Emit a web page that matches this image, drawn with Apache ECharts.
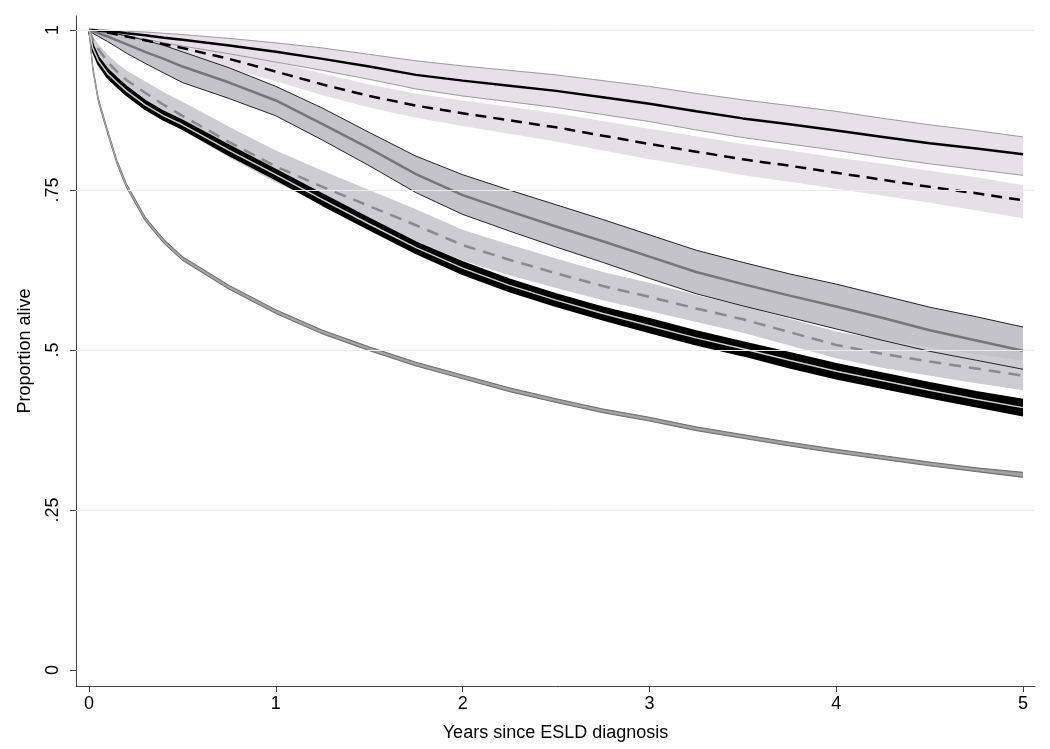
<!DOCTYPE html>
<html>
<head>
<meta charset="utf-8">
<script src="https://cdn.jsdelivr.net/npm/echarts@6/dist/echarts.min.js"></script>
<style>
  html, body { margin: 0; padding: 0; background: #fff; }
  #chart { width: 1050px; height: 749px; }
</style>
</head>
<body>
<div id="chart"></div>
<script>
// time points (years since ESLD diagnosis)
const years = [0, 0.02, 0.05, 0.1, 0.15, 0.2, 0.3, 0.4, 0.5, 0.75, 1, 1.25, 1.5, 1.75, 2, 2.25, 2.5, 2.75, 3, 3.25, 3.5, 3.75, 4, 4.25, 4.5, 4.75, 5];

// group A: solid black, light band with grey borders
const aEst = [1, 1, .999, .998, .997, .995, .992, .988, .985, .976, .966, .955, .943, .930, .921, .913, .905, .895, .885, .873, .862, .853, .843, .833, .823, .815, .806];
const aHi  = [1, 1, 1, 1, .999, .998, .997, .995, .993, .987, .980, .972, .962, .952, .944, .937, .930, .921, .912, .901, .891, .882, .873, .862, .852, .843, .833];
const aLo  = [1, .999, .998, .995, .993, .991, .986, .980, .975, .963, .950, .937, .923, .908, .897, .888, .879, .868, .857, .844, .832, .822, .812, .801, .791, .782, .773];

// group B: dashed black, light band
const bEst = [1, .999, .998, .996, .993, .990, .984, .978, .972, .955, .935, .915, .897, .882, .870, .859, .848, .835, .822, .810, .798, .788, .777, .766, .755, .745, .734];
const bHi  = [1, 1, 1, .999, .998, .997, .993, .989, .985, .971, .950, .932, .915, .901, .890, .880, .870, .858, .846, .834, .822, .812, .801, .791, .780, .770, .758];
const bLo  = [1, .997, .995, .992, .988, .983, .975, .967, .958, .939, .920, .898, .879, .863, .850, .838, .826, .812, .798, .786, .773, .763, .752, .741, .730, .718, .706];

// group C: solid grey, darker band with black borders
const cEst = [1, .998, .995, .990, .984, .978, .966, .955, .943, .918, .890, .853, .815, .775, .742, .717, .693, .670, .646, .622, .603, .585, .568, .550, .531, .515, .499];
const cHi  = [1, 1, .999, .997, .994, .991, .984, .976, .966, .941, .912, .878, .840, .803, .774, .750, .727, .704, .680, .656, .637, .619, .603, .585, .567, .552, .536];
const cLo  = [1, .995, .990, .982, .973, .964, .948, .933, .918, .893, .866, .828, .788, .746, .712, .686, .661, .637, .612, .588, .569, .551, .533, .515, .498, .484, .470];

// group D: dashed grey, light grey band
const dEst = [1, .985, .970, .950, .935, .922, .902, .883, .866, .825, .787, .755, .725, .695, .664, .641, .620, .600, .583, .565, .548, .528, .508, .494, .482, .471, .460];
const dHi  = [1, .990, .978, .961, .948, .937, .920, .903, .888, .849, .812, .780, .750, .720, .688, .665, .643, .622, .605, .586, .569, .549, .529, .516, .504, .494, .483];
const dLo  = [1, .980, .962, .939, .922, .907, .884, .863, .844, .801, .762, .730, .700, .670, .640, .617, .597, .578, .561, .544, .527, .507, .487, .472, .460, .448, .437];

// group E: thick black band with pale centre line
const eEst = [1, .972, .952, .932, .918, .905, .883, .866, .852, .812, .774, .735, .697, .660, .628, .601, .578, .557, .538, .519, .502, .484, .467, .452, .437, .423, .410];
const eHi  = [1, .976, .957, .938, .924, .911, .889, .872, .858, .819, .781, .743, .705, .668, .637, .610, .587, .566, .548, .529, .512, .495, .478, .463, .448, .434, .422];
const eLo  = [1, .968, .947, .926, .912, .899, .877, .860, .846, .805, .767, .727, .689, .652, .619, .592, .569, .548, .528, .509, .492, .473, .456, .441, .426, .412, .398];

// group F: lowest curve, narrow grey band
const fEst = [1, .940, .890, .840, .793, .757, .705, .670, .643, .598, .560, .528, .502, .478, .458, .438, .421, .405, .392, .377, .365, .353, .342, .332, .322, .313, .305];
const fHi  = [1, .943, .893, .843, .796, .760, .708, .673, .646, .601, .563, .531, .505, .481, .461, .441, .424, .408, .395, .380, .368, .356, .345, .335, .325, .316, .309];
const fLo  = [1, .937, .887, .837, .790, .754, .702, .667, .640, .595, .557, .525, .499, .475, .455, .435, .418, .402, .389, .374, .362, .350, .339, .329, .319, .310, .301];

const xTicks = [0, 1, 2, 3, 4, 5];
const yTicks = [0, 0.25, 0.5, 0.75, 1];
const yTickLabels = ['0', '.25', '.5', '.75', '1'];

function pairs(vals) {
  return years.map((t, i) => [t, vals[i]]);
}

function band(lo, hi, fill) {
  return {
    type: 'custom',
    silent: true,
    data: [[0, 0]],
    renderItem: (params, api) => {
      const top = years.map((t, i) => api.coord([t, hi[i]]));
      const bottom = years.map((t, i) => api.coord([t, lo[i]])).reverse();
      return {
        type: 'polygon',
        shape: { points: top.concat(bottom) },
        style: { fill: fill, stroke: null }
      };
    }
  };
}

function line(vals, color, width, type) {
  return {
    type: 'line',
    data: pairs(vals),
    showSymbol: false,
    silent: true,
    lineStyle: { color: color, width: width, type: type || 'solid' }
  };
}

const font = 'Liberation Sans';

const chart = echarts.init(document.getElementById('chart'));
chart.setOption({
  animation: false,
  backgroundColor: '#fff',
  grid: { left: 76, right: 15, top: 16, bottom: 63 },
  xAxis: {
    type: 'value',
    min: -0.07,
    max: 5.064,
    name: 'Years since ESLD diagnosis',
    nameLocation: 'middle',
    nameGap: 38,
    nameTextStyle: { fontFamily: font, fontSize: 18, color: '#000' },
    axisLine: { show: true, onZero: false, lineStyle: { color: '#444', width: 1 } },
    axisTick: { show: true, length: 6, customValues: xTicks, lineStyle: { color: '#444' } },
    axisLabel: { customValues: xTicks, fontFamily: font, fontSize: 18, color: '#000', margin: 9 },
    splitLine: { show: false }
  },
  yAxis: {
    type: 'value',
    min: -0.025,
    max: 1.022,
    name: 'Proportion alive',
    nameLocation: 'middle',
    nameGap: 42,
    nameRotate: 90,
    nameTextStyle: { fontFamily: font, fontSize: 18, color: '#000' },
    axisLine: { show: true, onZero: false, lineStyle: { color: '#444', width: 1 } },
    axisTick: { show: true, length: 6, customValues: yTicks, lineStyle: { color: '#444' } },
    axisLabel: {
      customValues: yTicks,
      rotate: 90,
      fontFamily: font,
      fontSize: 18,
      color: '#000',
      margin: 14,
      formatter: (v) => yTickLabels[yTicks.indexOf(v)]
    },
    splitLine: { show: false }
  },
  series: [
    {
      type: 'line',
      data: [],
      silent: true,
      markLine: {
        silent: true,
        symbol: 'none',
        label: { show: false },
        lineStyle: { color: '#ececec', width: 1, type: 'solid' },
        data: yTicks.slice(1).map(v => ({ yAxis: v }))
      }
    },
    band(aLo, aHi, '#e5e1e6'),
    line(aHi, '#9a9a9a', 1),
    line(aLo, '#9a9a9a', 1),
    band(bLo, bHi, '#e4e1e5'),
    band(cLo, cHi, '#c4c3c7'),
    line(cHi, '#222', 1),
    line(cLo, '#222', 1),
    band(dLo, dHi, '#cdccd0'),
    band(eLo, eHi, '#000'),
    line(eHi, '#000', 2.5),
    line(eLo, '#000', 2.5),
    band(fLo, fHi, '#9a9a9a'),
    line(fHi, '#555', 0.8),
    line(fLo, '#555', 0.8),
    line(aEst, '#000', 2.5),
    line(bEst, '#000', 2.5, [11, 7]),
    line(cEst, '#767676', 2.5),
    line(dEst, '#8a8a8a', 2.5, [12, 8]),
    line(eEst, '#cfcfcf', 1.5),
    line(fEst, '#aaaaaa', 1)
  ]
});
window.addEventListener('resize', () => chart.resize());
</script>
</body>
</html>
